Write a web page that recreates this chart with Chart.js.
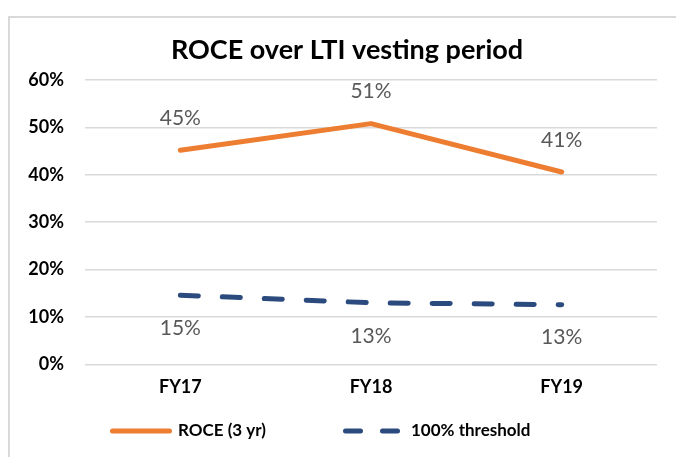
<!DOCTYPE html>
<html>
<head>
<meta charset="utf-8">
<script src="https://cdn.jsdelivr.net/npm/chart.js@4/dist/chart.umd.min.js"></script>
<style>
  body { margin: 0; background: #fff; overflow: hidden; }
  #frame { position: absolute; left: 8px; top: 16px; width: 720px; height: 500px; border: 2px solid #d9d9d9; box-sizing: border-box; }
  #wrap { position: absolute; left: 0; top: 0; width: 676px; height: 457px; }
</style>
</head>
<body>
<div id="frame"></div>
<div id="wrap"><canvas id="myChart"></canvas></div>
<script>
// data
const categories = ["FY17", "FY18", "FY19"];
const roceValues = [45.2, 50.8, 40.6];
const thresholdValues = [14.6, 13.0, 12.6];
const yTicks = [0, 10, 20, 30, 40, 50, 60];
const chartTitle = "ROCE over LTI vesting period";

const orange = "#ED7D31";
const navy = "#2B4A7E";
const FONT = "Lato, 'Open Sans', sans-serif";

// title drawn by hand so it can sit a little right of centre like the original
const titlePlugin = {
  id: "titleText",
  afterDraw(chart) {
    const ctx = chart.ctx;
    ctx.save();
    ctx.font = "bold 27px " + FONT;
    ctx.fillStyle = "#000";
    ctx.textAlign = "center";
    ctx.textBaseline = "middle";
    ctx.fillText(chartTitle, 347, 50);
    ctx.restore();
  }
};

// value labels, above the orange line and below the dashed one
const labelPlugin = {
  id: "valueLabels",
  afterDatasetsDraw(chart) {
    const ctx = chart.ctx;
    ctx.save();
    ctx.font = "21px " + FONT;
    ctx.fillStyle = "#595959";
    ctx.textAlign = "center";
    ctx.textBaseline = "middle";
    chart.data.datasets.forEach(function (ds, i) {
      const meta = chart.getDatasetMeta(i);
      const shift = i === 0 ? -32 : 33;
      meta.data.forEach(function (pt, j) {
        ctx.fillText(Math.round(ds.data[j]) + "%", pt.x, pt.y + shift);
      });
    });
    ctx.restore();
  }
};

// legend drawn by hand (the built-in one would not dash the line sample)
const legendPlugin = {
  id: "bottomLegend",
  afterDraw(chart) {
    const ctx = chart.ctx;
    const y = 431;
    const items = [
      { ds: chart.data.datasets[0], x0: 112.5, x1: 169.5, tx: 178 },
      { ds: chart.data.datasets[1], x0: 345.5, x1: 397.5, tx: 411 },
    ];
    ctx.save();
    ctx.font = "bold 17px " + FONT;
    ctx.textBaseline = "middle";
    items.forEach(function (it) {
      ctx.beginPath();
      ctx.strokeStyle = it.ds.borderColor;
      ctx.lineWidth = it.ds.borderWidth;
      ctx.lineCap = "round";
      ctx.setLineDash(it.ds.borderDash ? [15, 22] : []);
      ctx.moveTo(it.x0, y);
      ctx.lineTo(it.x1, y);
      ctx.stroke();
      ctx.fillStyle = "#000";
      ctx.fillText(it.ds.label, it.tx, y);
    });
    ctx.restore();
  }
};

var ctx = document.querySelector("#myChart").getContext("2d");

var myChart = new Chart(ctx, {
  type: "line",
  data: {
    labels: categories,
    datasets: [
      {
        label: "ROCE (3 yr)",
        data: roceValues,
        borderColor: orange,
        backgroundColor: orange,
        borderWidth: 5,
        borderCapStyle: "round",
        borderJoinStyle: "round",
        pointRadius: 0,
        tension: 0,
      },
      {
        label: "100% threshold",
        data: thresholdValues,
        borderColor: navy,
        backgroundColor: navy,
        borderWidth: 5,
        borderDash: [18, 24],
        borderCapStyle: "round",
        pointRadius: 0,
        tension: 0,
      },
    ],
  },
  options: {
    responsive: true,
    maintainAspectRatio: false,
    animation: false,
    layout: {
      padding: { top: 80, right: 19, left: 0, bottom: 55 },
    },
    plugins: {
      title: { display: false },
      tooltip: { enabled: false },
      legend: { display: false },
    },
    scales: {
      x: {
        offset: true,
        grid: { display: false },
        border: { display: false },
        ticks: {
          color: "#000",
          padding: 4,
          font: { family: FONT, size: 18, weight: "bold" },
        },
      },
      y: {
        min: 0,
        max: 60,
        afterFit(scale) {
          scale.width = 85;
        },
        afterBuildTicks(scale) {
          scale.ticks = yTicks.map((v) => ({ value: v }));
        },
        grid: { color: "#d9d9d9", lineWidth: 1.5, drawTicks: false },
        border: { display: false },
        ticks: {
          color: "#000",
          padding: 21,
          font: { family: FONT, size: 18, weight: "bold" },
          callback: (v) => v + "%",
        },
      },
    },
  },
  plugins: [titlePlugin, labelPlugin, legendPlugin],
});
</script>
</body>
</html>
